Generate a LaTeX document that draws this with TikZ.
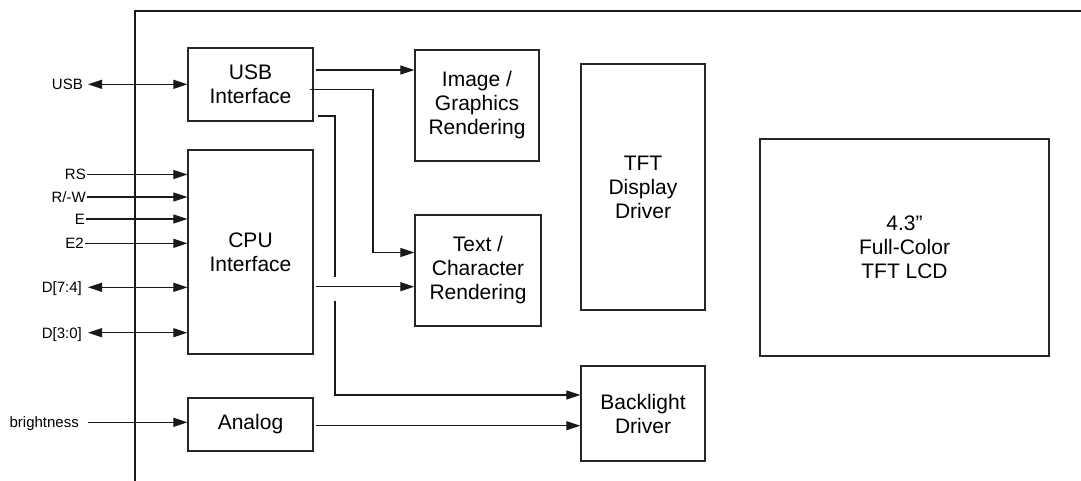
\documentclass[tikz,border=0pt]{standalone}
\usepackage{fontspec}
\setmainfont{Liberation Sans}
\usetikzlibrary{arrows.meta}
\begin{document}
\begin{tikzpicture}[x=1pt,y=-1pt,
  box/.style={draw=black!85, line width=1.2pt, inner sep=0pt, align=center,
    font=\fontsize{21}{24}\selectfont},
  lbl/.style={inner sep=0pt, anchor=east, text height=10.7pt, text depth=0pt,
    font=\fontsize{15}{17}\selectfont},
  wire/.style={line width=1.1pt, draw=black!90},
  arr/.style={wire, -{Triangle[length=14pt,width=9pt]}},
  biarr/.style={wire, {Triangle[length=14pt,width=9pt]}-{Triangle[length=14pt,width=9pt]}}]
\useasboundingbox (0,0) rectangle (1081,480);
% outer frame
\draw[wire] (135,482) -- (135,11) -- (1083,11);
% blocks
\node[box, minimum width=125pt, minimum height=73pt] (usb) at (250.5,84.5) {USB\\Interface};
\node[box, minimum width=125pt, minimum height=204pt] (cpu) at (250.5,252) {CPU\\Interface};
\node[box, minimum width=125pt, minimum height=53pt] (ana) at (250.5,424.5) {Analog};
\node[box, minimum width=124pt, minimum height=111pt] (img) at (477,105.5) {Image /\\Graphics\\Rendering};
\node[box, minimum width=126pt, minimum height=111pt] (txt) at (478,270.5) {Text /\\Character\\Rendering};
\node[box, minimum width=124pt, minimum height=246pt] (tft) at (643,187) {TFT\\Display\\Driver};
\node[box, minimum width=124pt, minimum height=95pt] (bl) at (643,413.5) {Backlight\\Driver};
\node[box, minimum width=289pt, minimum height=217pt] (lcd) at (904.5,247.5) {4.3”\\Full-Color\\TFT LCD};
% left labels
\node[lbl] (lusb) at (83,84.3) {USB};
\node[lbl] (lrs) at (86,174.5) {RS};
\node[lbl] (lrw) at (86,197) {R/-W};
\node[lbl] (le) at (85,219) {E};
\node[lbl] (le2) at (84,243.3) {E2};
\node[lbl] (ld74) at (82,287.3) {D[7:4]};
\node[lbl] (ld30) at (82,332.7) {D[3:0]};
\node[lbl] (lbr) at (79,422.3) {brightness};
% left connectors
\draw[biarr] ([xshift=5pt]lusb.east) -- (lusb.east -| usb.west);
\draw[arr] ([xshift=1pt]lrs.east) -- (lrs.east -| cpu.west);
\draw[arr] ([xshift=1pt]lrw.east) -- (lrw.east -| cpu.west);
\draw[arr] ([xshift=1pt]le.east) -- (le.east -| cpu.west);
\draw[arr] ([xshift=1pt]le2.east) -- (le2.east -| cpu.west);
\draw[biarr] ([xshift=6pt]ld74.east) -- (ld74.east -| cpu.west);
\draw[biarr] ([xshift=6pt]ld30.east) -- (ld30.east -| cpu.west);
\draw[arr] ([xshift=9pt]lbr.east) -- (lbr.east -| ana.west);
% internal connectors
\coordinate (u1) at ([shift={(2,-14.5)}]usb.east);
\draw[arr] (u1) -- (u1 -| img.west);
\coordinate (u2) at ([shift={(-4,5.2)}]usb.east);
\coordinate (u2c) at (373,89.7);
\draw[arr] (u2) -- (u2c) |- ([yshift=18pt]txt.west);
\coordinate (u3) at ([shift={(4,31.5)}]usb.east);
\coordinate (hopA) at (335,276.5);
\coordinate (hopB) at (335,300.5);
\draw[wire] (u3) -| (hopA);
\draw[arr] (hopB) |- ([yshift=18.5pt]bl.west);
\coordinate (c1) at ([shift={(2,34.7)}]cpu.east);
\draw[arr] (c1) -- (c1 -| txt.west);
\coordinate (a1) at ([shift={(2,1.2)}]ana.east);
\draw[arr] (a1) -- (a1 -| bl.west);
\end{tikzpicture}
\end{document}
